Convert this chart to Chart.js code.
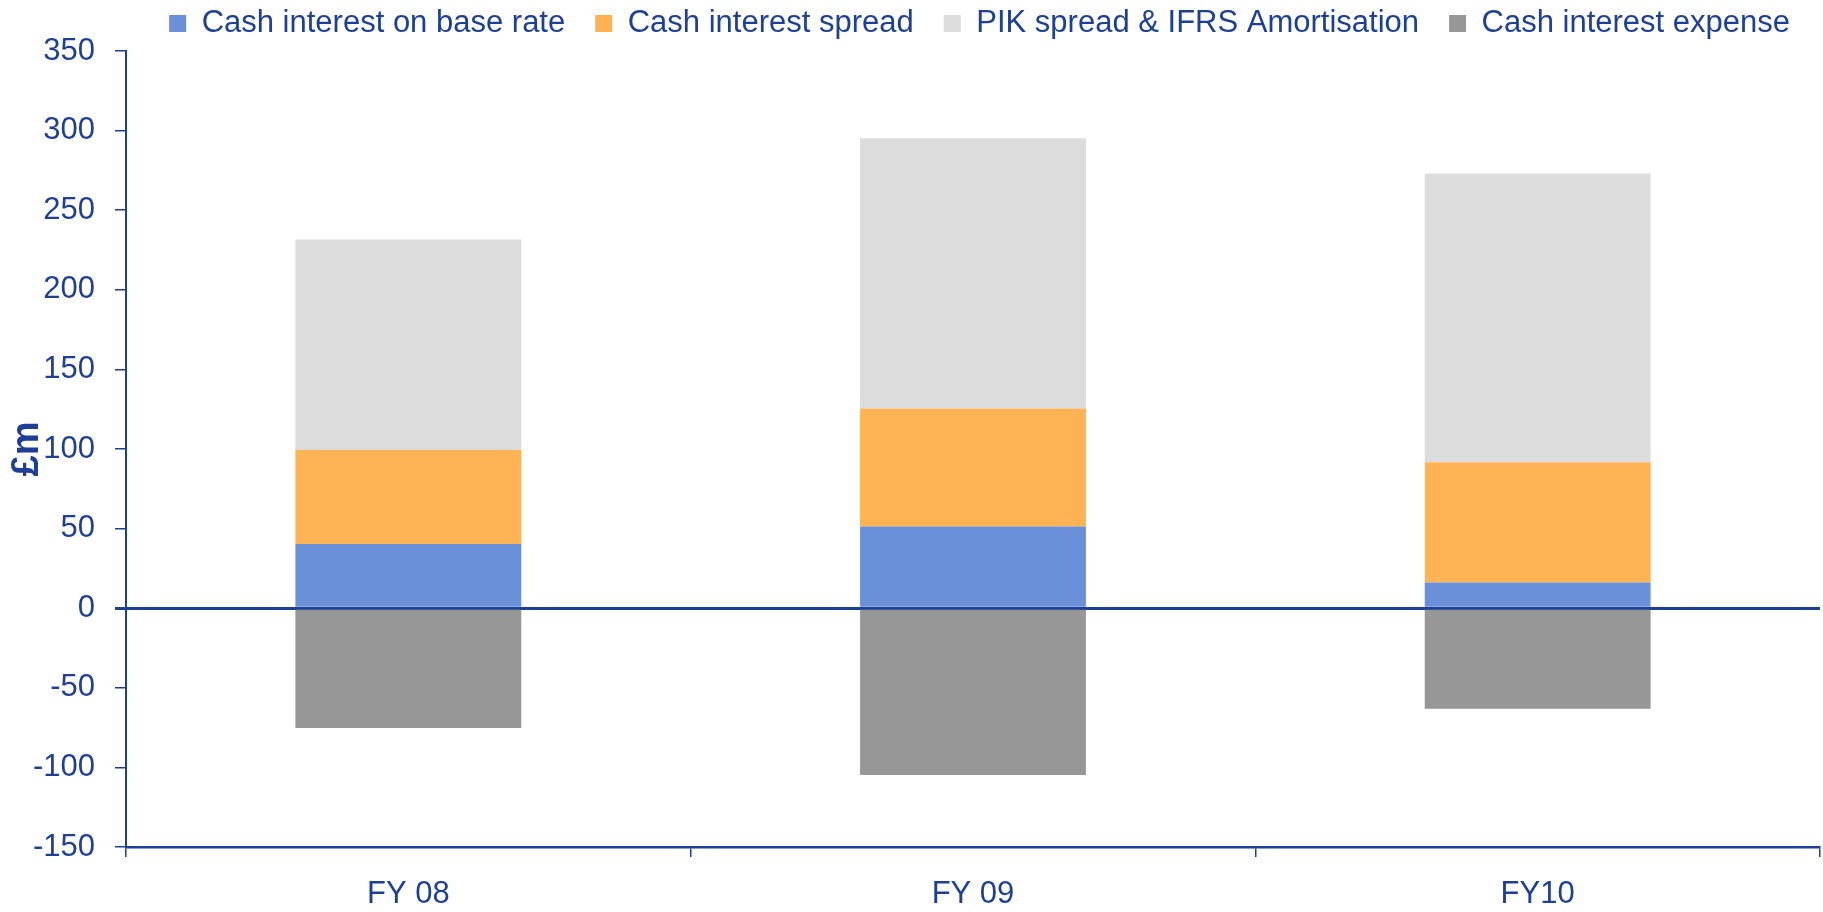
<!DOCTYPE html>
<html>
<head>
<meta charset="utf-8">
<script src="https://cdn.jsdelivr.net/npm/chart.js@4"></script>
<style>
  body { margin: 0; background: #fff; }
  #wrap { width: 1823px; height: 912px; }
</style>
</head>
<body>
<div id="wrap"><canvas id="interest-chart"></canvas></div>
<script>
// values (£m)
const categories = ['FY 08', 'FY 09', 'FY10'];
const cashBaseRate = [40.4, 51.3, 16.1];
const cashSpread = [59.0, 74.2, 75.6];
const pikIfrs = [132.2, 169.7, 181.4];
const cashExpense = [-75.3, -104.8, -63.2];
const yMin = -150, yMax = 350, yStep = 50;

const navy = '#1D3F96';
const fontFamily = "'Liberation Sans', Arial, sans-serif";

// squash the legend so the plot starts where the reference does
const legendFit = {
    id: 'legendFit',
    beforeLayout: chart => {
        if (chart.legend && !chart.legend._patched) {
            const fit = chart.legend.fit;
            chart.legend.fit = function () {
                fit.call(this);
                this.height = 73;
            };
            chart.legend._patched = true;
        }
    }
};

let ctx = document.getElementById('interest-chart').getContext('2d');

const interestChart = new Chart(ctx, {
    type: 'bar',
    data: {
        labels: categories,
        datasets: [
            { label: 'Cash interest on base rate', data: cashBaseRate, backgroundColor: '#6A90DA', borderWidth: 0 },
            { label: 'Cash interest spread', data: cashSpread, backgroundColor: '#FFB354', borderWidth: 0 },
            { label: 'PIK spread & IFRS Amortisation', data: pikIfrs, backgroundColor: '#DCDCDC', borderWidth: 0 },
            { label: 'Cash interest expense', data: cashExpense, backgroundColor: '#979797', borderWidth: 0 }
        ]
    },
    options: {
        responsive: true,
        maintainAspectRatio: false,
        animation: false,
        categoryPercentage: 1,
        barPercentage: 0.4,
        layout: {
            padding: { top: -22, left: 0, right: 3, bottom: 0 }
        },
        plugins: {
            legend: {
                position: 'top',
                align: 'end',
                labels: {
                    boxWidth: 17,
                    boxHeight: 17,
                    padding: 30,
                    color: navy,
                    font: { family: fontFamily, size: 31 }
                }
            },
            tooltip: { enabled: false }
        },
        scales: {
            x: {
                stacked: true,
                afterFit: scale => { scale.height = 65; },
                grid: {
                    offset: true,
                    drawOnChartArea: false,
                    drawTicks: true,
                    tickLength: 10,
                    tickColor: navy,
                    lineWidth: 1.5
                },
                border: { color: navy, width: 2.5 },
                ticks: {
                    color: navy,
                    padding: 19,
                    font: { family: fontFamily, size: 31 }
                }
            },
            y: {
                stacked: true,
                min: yMin,
                max: yMax,
                z: 1,
                afterFit: scale => { scale.width = 126; },
                grid: {
                    drawTicks: true,
                    tickLength: 11,
                    tickColor: navy,
                    color: c => (c.tick && c.tick.value === 0 ? navy : 'rgba(0,0,0,0)'),
                    lineWidth: c => (c.tick && c.tick.value === 0 ? 3 : 1.5)
                },
                border: { color: navy, width: 2 },
                ticks: {
                    stepSize: yStep,
                    color: navy,
                    padding: 20,
                    font: { family: fontFamily, size: 31 }
                },
                title: {
                    display: true,
                    text: '£m',
                    color: navy,
                    padding: { top: 5, bottom: 0 },
                    font: { family: fontFamily, size: 38, weight: 'bold' }
                }
            }
        }
    },
    plugins: [legendFit]
});
</script>
</body>
</html>
